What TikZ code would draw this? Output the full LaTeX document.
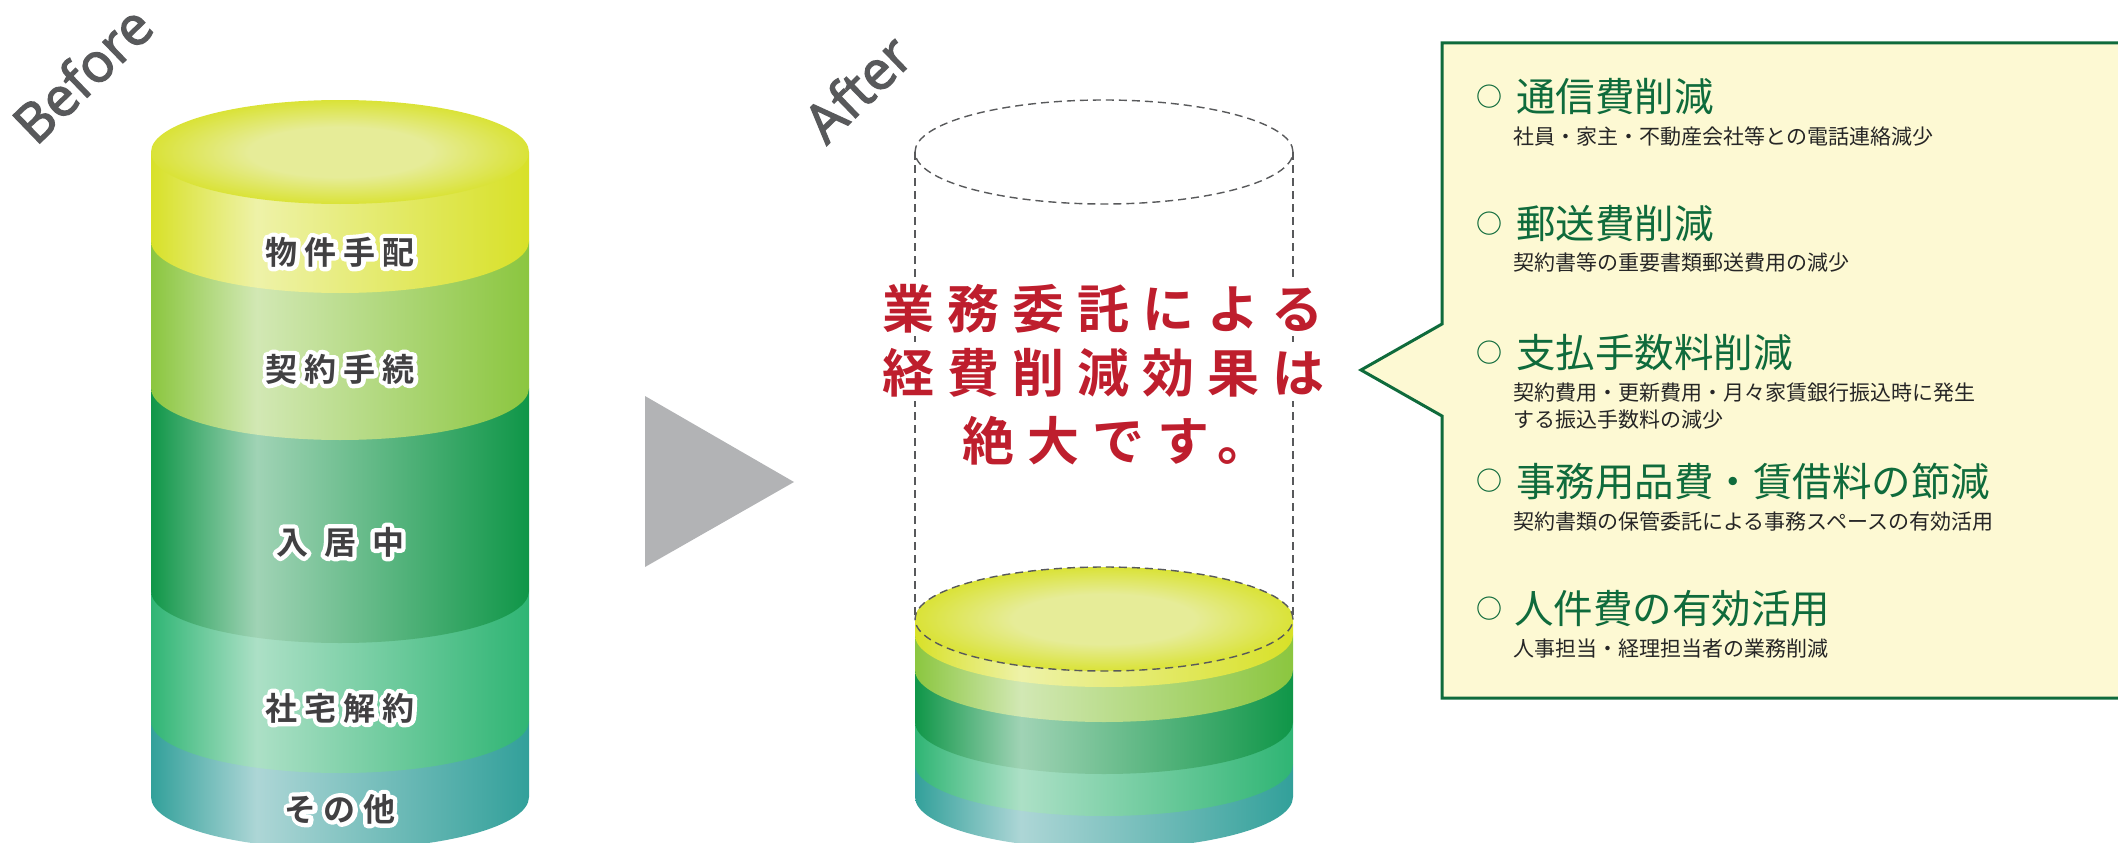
\documentclass[tikz,border=0pt]{standalone}
\usepackage{fontspec}
\usetikzlibrary{positioning}
\newfontfamily\tagfont[FakeBold=2.5]{Open Sans}
\newfontfamily\jpfont{Noto Sans CJK JP}
\newfontfamily\ringfont{Noto Sans CJK JP Bold}
\newfontfamily\redfont[LetterSpace=25]{Noto Sans CJK JP Bold}
\newfontfamily\labelfont[LetterSpace=22]{Noto Sans CJK JP Bold}
\newfontfamily\labelhalo[LetterSpace=22, FakeBold=27]{Noto Sans CJK JP Bold}
\newfontfamily\labelwidefont[LetterSpace=50]{Noto Sans CJK JP Bold}
\newfontfamily\labelwidehalo[LetterSpace=50, FakeBold=27]{Noto Sans CJK JP Bold}
\definecolor{yellowedge}{RGB}{216, 225, 40}
\definecolor{yellowlit}{RGB}{238, 242, 168}
\definecolor{yellowglow}{RGB}{230, 236, 152}
\definecolor{limeedge}{RGB}{139, 198, 63}
\definecolor{limelit}{RGB}{210, 232, 180}
\definecolor{forestedge}{RGB}{15, 150, 72}
\definecolor{forestlit}{RGB}{160, 211, 181}
\definecolor{mintedge}{RGB}{47, 181, 116}
\definecolor{mintlit}{RGB}{172, 224, 198}
\definecolor{tealedge}{RGB}{50, 160, 154}
\definecolor{teallit}{RGB}{173, 214, 214}
\definecolor{notegreen}{RGB}{15, 107, 60}
\definecolor{notefill}{RGB}{253, 249, 211}
\definecolor{tagred}{RGB}{190, 30, 45}
\definecolor{taggray}{RGB}{88, 89, 91}
\definecolor{labelgray}{RGB}{65, 64, 66}
\definecolor{arrowgray}{RGB}{178, 179, 181}
\pgfdeclarehorizontalshading{yellowband}{100bp}{color(0bp)=(yellowedge); color(25bp)=(yellowedge); color(39bp)=(yellowlit); color(75bp)=(yellowedge); color(100bp)=(yellowedge)}
\pgfdeclarehorizontalshading{limeband}{100bp}{color(0bp)=(limeedge); color(25bp)=(limeedge); color(39bp)=(limelit); color(75bp)=(limeedge); color(100bp)=(limeedge)}
\pgfdeclarehorizontalshading{forestband}{100bp}{color(0bp)=(forestedge); color(25bp)=(forestedge); color(39bp)=(forestlit); color(75bp)=(forestedge); color(100bp)=(forestedge)}
\pgfdeclarehorizontalshading{mintband}{100bp}{color(0bp)=(mintedge); color(25bp)=(mintedge); color(39bp)=(mintlit); color(75bp)=(mintedge); color(100bp)=(mintedge)}
\pgfdeclarehorizontalshading{tealband}{100bp}{color(0bp)=(tealedge); color(25bp)=(tealedge); color(39bp)=(teallit); color(75bp)=(tealedge); color(100bp)=(tealedge)}
\pgfdeclareradialshading{topglow}{\pgfpoint{0bp}{0bp}}{color(0bp)=(yellowglow); color(12bp)=(yellowglow); color(27bp)=(yellowedge); color(50bp)=(yellowedge)}
% one slice of a cylinder: centre x, upper y, lower y, shading
\newcommand{\cylband}[4]{\path[shading=#4] ({#1-189},{-#2}) -- ({#1-189},{-#3}) arc[start angle=180, end angle=360, x radius=189, y radius=52] -- ({#1+189},{-#2}) -- cycle;}
% white rim under a slice label
\newcommand{\rimmed}[1]{\rlap{\labelhalo\color{white}#1}#1}
\newcommand{\rimmedwide}[1]{\rlap{\labelwidehalo\color{white}#1}#1}
\tikzset{
  tagtext/.style={font=\tagfont\fontsize{54}{60}\selectfont, text=taggray, inner sep=0pt, rotate=44},
  sliceword/.style={font=\labelfont\fontsize{32}{36}\selectfont, text=labelgray, inner sep=0pt, line join=round},
  redline/.style={font=\redfont\fontsize{52}{60}\selectfont, text=tagred, fill=white, inner sep=3pt},
  headword/.style={font=\jpfont\fontsize{39.5}{47}\selectfont, text=notegreen, inner sep=0pt, anchor=west},
  ringmark/.style={font=\ringfont\fontsize{26}{30}\selectfont, text=notegreen, inner sep=0pt},
  subword/.style={font=\jpfont\fontsize{21}{27}\selectfont, text=black!85, inner sep=0pt, anchor=west, align=left},
  ghost/.style={draw=taggray, line width=1.4pt, dash pattern=on 8pt off 5pt}
}
\begin{document}
\begin{tikzpicture}[x=1pt, y=1pt]
  \useasboundingbox (0,-843) rectangle (2118,0);
  \clip (0,-843) rectangle (2118,0);
  % Before cylinder
  \cylband{340}{721}{797}{tealband}
  \cylband{340}{591}{721}{mintband}
  \cylband{340}{388}{591}{forestband}
  \cylband{340}{241}{388}{limeband}
  \cylband{340}{152}{241}{yellowband}
  \path[shading=topglow] (340,-152) ellipse[x radius=189, y radius=52];
  \node[tagtext] (before) at (82,-74) {Before};
  \node[sliceword] (buying) at (340,-252) {\rimmed{物件手配}};
  \node[sliceword] (contract) at (340,-369) {\rimmed{契約手続}};
  \node[sliceword, font=\labelwidefont\fontsize{32}{36}\selectfont] (living) at (340,-542) {\rimmedwide{入居中}};
  \node[sliceword] (leaving) at (340,-708) {\rimmed{社宅解約}};
  \node[sliceword] (others) at (340,-809) {\rimmed{その他}};
  % Grey triangle between both
  \fill[arrowgray] (645,-396) -- (794,-482) -- (645,-567) -- cycle;
  % After cylinder
  \cylband{1104}{764}{797}{tealband}
  \cylband{1104}{722}{764}{mintband}
  \cylband{1104}{670}{722}{forestband}
  \cylband{1104}{635}{670}{limeband}
  \cylband{1104}{619}{635}{yellowband}
  \path[shading=topglow] (1104,-619) ellipse[x radius=189, y radius=52];
  \draw[ghost] (1104,-152) ellipse[x radius=189, y radius=52];
  \draw[ghost] (1104,-619) ellipse[x radius=189, y radius=52];
  \draw[ghost] (915,-152) -- (915,-619);
  \draw[ghost] (1293,-152) -- (1293,-619);
  \node[tagtext] (after) at (857,-88) {After};
  \node[redline] (claim1) at (1103,-309) {業務委託による};
  \node[redline] (claim2) at (1103,-373) {経費削減効果は};
  \node[redline] (claim3) at (1116,-441) {絶大です。};
  % Speech box
  \draw[draw=notegreen, fill=notefill, line width=3pt] (1442,-43) -- (1442,-324) -- (1361,-370) -- (1442,-416) -- (1442,-698) -- (2130,-698) -- (2130,-43) -- cycle;
  \node[ringmark] (ring1) at (1489,-97) {○};
  \node[headword] (head1) at (1516,-97) {通信費削減};
  \node[subword] (sub1) at (1513,-137) {社員・家主・不動産会社等との電話連絡減少};
  \node[ringmark] (ring2) at (1489,-224) {○};
  \node[headword] (head2) at (1516,-224) {郵送費削減};
  \node[subword] (sub2) at (1513,-263) {契約書等の重要書類郵送費用の減少};
  \node[ringmark] (ring3) at (1489,-353) {○};
  \node[headword] (head3) at (1516,-353) {支払手数料削減};
  \node[subword] (sub3) at (1513,-406) {契約費用・更新費用・月々家賃銀行振込時に発生\\する振込手数料の減少};
  \node[ringmark] (ring4) at (1489,-481) {○};
  \node[headword] (head4) at (1516,-481) {事務用品費・賃借料の節減};
  \node[subword] (sub4) at (1513,-522) {契約書類の保管委託による事務スペースの有効活用};
  \node[ringmark] (ring5) at (1489,-609) {○};
  \node[headword] (head5) at (1514,-609) {人件費の有効活用};
  \node[subword] (sub5) at (1513,-649) {人事担当・経理担当者の業務削減};
\end{tikzpicture}
\end{document}
